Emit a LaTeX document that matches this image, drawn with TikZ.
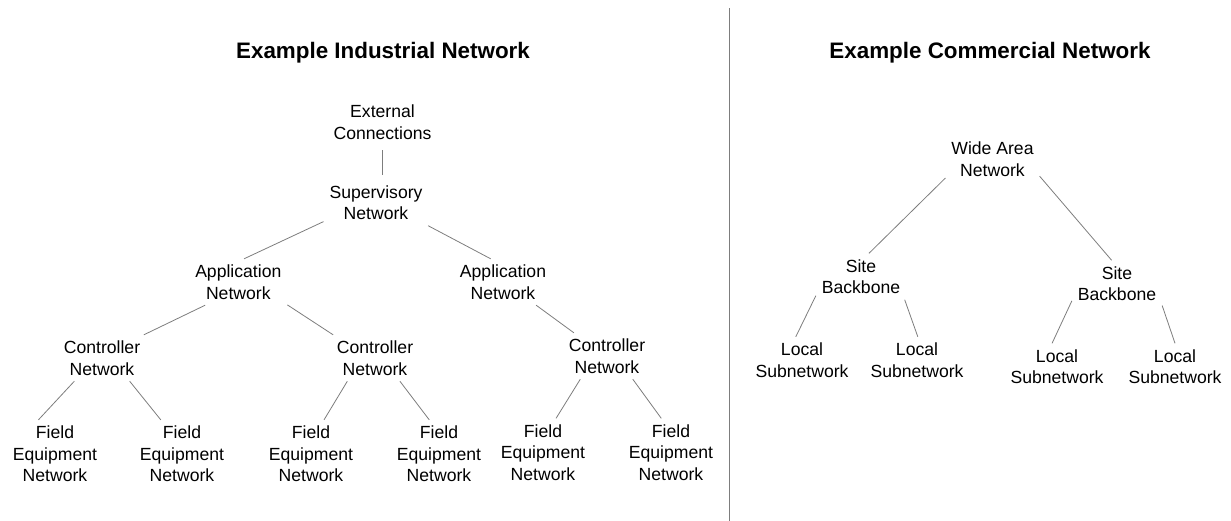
\documentclass[tikz,border=0pt]{standalone}
\usepackage{fontspec}
\setmainfont{Liberation Sans}
\usetikzlibrary{positioning}
\definecolor{linegray}{RGB}{125,125,125}

\begin{document}
\begin{tikzpicture}[x=1pt,y=-1pt,every node/.style={inner sep=6,outer sep=0,align=center,font=\fontsize{17.6}{21.5}\selectfont},
	title/.style={inner sep=0,anchor=base,font=\fontsize{22.4}{27}\selectfont\bfseries},
	link/.style={draw=linegray,line width=0.8pt}]
	\useasboundingbox (0,0) rectangle (1231,521);
	% industrial
	\node[title] (tind) at (383,59) {Example Industrial Network};
	\node (ext) at (382.5,122) {External\\Connections};
	\node (sup) at (376,202.5) {Supervisory\\Network};
	\node (app1) at (238.3,282) {Application\\Network};
	\node (app2) at (503,282) {Application\\Network};
	\node (ctl1) at (102,358) {Controller\\Network};
	\node (ctl2) at (375,358) {Controller\\Network};
	\node (ctl3) at (607,356) {Controller\\Network};
	\node (fld1) at (55,453.8) {Field\\Equipment\\Network};
	\node (fld2) at (182,453.8) {Field\\Equipment\\Network};
	\node (fld3) at (311,453.8) {Field\\Equipment\\Network};
	\node (fld4) at (439,453.8) {Field\\Equipment\\Network};
	\node (fld5) at (543,452.3) {Field\\Equipment\\Network};
	\node (fld6) at (671,452.3) {Field\\Equipment\\Network};
	\path[link]
		(ext) edge[shorten <=5, shorten >=4] (ext |- sup.north)
		(sup.200) edge (app1.76)
		(sup.336) edge (app2.118)
		(app1.215) edge (ctl1.29)
		(app1.335) edge (ctl2.151)
		(app2.325) edge (ctl3.145)
		(ctl1.220) edge (fld1.116)
		(ctl1.320) edge (fld2.122)
		(ctl2.220) edge (fld3.69)
		(ctl2.317) edge (fld4.106)
		(ctl3.221) edge (fld5.69)
		(ctl3.318) edge (fld6.106);
	% divider
	\draw[link] (729.5,8.5) -- (729.5,521);
	% commercial
	\node[title] (tcom) at (990,59) {Example Commercial Network};
	\node (wan) at (992.5,159) {Wide Area\\Network};
	\node (site1) at (861,276.5) {Site\\Backbone};
	\node (site2) at (1117,283.5) {Site\\Backbone};
	\node (loc1) at (802,360) {Local\\Subnetwork};
	\node (loc2) at (917,360) {Local\\Subnetwork};
	\node (loc3) at (1057,366.5) {Local\\Subnetwork};
	\node (loc4) at (1175,366.5) {Local\\Subnetwork};
	\path[link]
		(wan.202) edge (site1.71)
		(wan.340) edge (site2.103)
		(site1.203) edge (loc1.105)
		(site1.332) edge (loc2.88)
		(site2.201) edge (loc3.102)
		(site2.334) edge (loc4.90);
\end{tikzpicture}
\end{document}
